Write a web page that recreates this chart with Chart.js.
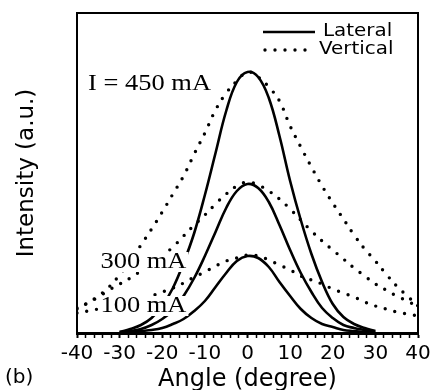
<!DOCTYPE html>
<html>
<head>
<meta charset="utf-8">
<title>Far-field intensity vs angle</title>
<script src="https://cdn.jsdelivr.net/npm/chart.js@4.4.0/dist/chart.umd.min.js"></script>
<style>
  html, body { margin: 0; padding: 0; background: #fff; }
  canvas { display: block; }
</style>
</head>
<body>
<canvas id="myChart" width="435" height="390"></canvas>
<script>
// angles in degrees
const lateralAngles = [-30, -27.5, -25, -22.5, -20, -17.5, -15, -12.5, -10, -7.5, -5, -2.5, 0,
                       2.5, 5, 7.5, 10, 12.5, 15, 17.5, 20, 22.5, 25, 27.5, 30];
const verticalAngles = [-40, -37.5, -35, -32.5, -30, -27.5, -25, -22.5, -20, -17.5, -15, -12.5, -10, -7.5, -5, -2.5, 0,
                        2.5, 5, 7.5, 10, 12.5, 15, 17.5, 20, 22.5, 25, 27.5, 30, 32.5, 35, 37.5, 40];

// intensity (a.u.), lateral far field
const lateral450 = [1, 4, 8, 15, 27, 45, 70, 100, 138, 180, 222, 251, 261,
                    256, 235, 197, 152, 113, 79, 51, 29, 16, 9, 5, 2];
const lateral300 = [1, 2, 4, 8, 14, 23, 37, 55, 77, 101, 125, 142, 149,
                    145, 131, 108, 83, 60, 41, 25, 15, 8, 5, 3, 1];
const lateral100 = [0, 1, 2, 3, 5, 9, 14, 22, 32, 46, 60, 72, 77,
                    75, 66, 51, 37, 24, 15, 9, 6, 3, 2, 1, 0];

// intensity (a.u.), vertical far field
const vertical450 = [24, 30, 37, 46, 58, 72, 88, 104, 121, 139, 157, 179, 200, 223, 240, 252, 261,
                     256, 246, 232, 207, 186, 166, 147, 130, 114, 98, 84, 72, 59, 47, 37, 27];
const vertical300 = [25, 30, 36, 43, 49, 55, 62, 69, 77, 86, 97, 108, 118, 129, 139, 147, 151,
                     148, 142, 134, 124, 113, 102, 92, 83, 74, 65, 57, 49, 43, 37, 32, 26];
const vertical100 = [20, 22, 24, 26, 28, 31, 34, 37, 41, 45, 50, 56, 61, 67, 72, 75, 78,
                     77, 73, 68, 63, 57, 53, 49, 44, 40, 36, 31, 27, 24, 21, 19, 17];

const angleTicks = [-40, -30, -20, -10, 0, 10, 20, 30, 40];
const seriesNames = ['Lateral', 'Vertical'];
const currentLabels = ['I = 450 mA', '300 mA', '100 mA'];

function points(xs, ys) {
    return xs.map((x, i) => ({ x: x, y: ys[i] }));
}

function solid(data) {
    return {
        label: seriesNames[0],
        data: data,
        borderColor: '#000',
        borderWidth: 2.6,
        pointRadius: 0,
        fill: false,
        tension: 0.4
    };
}

function dotted(data) {
    return {
        label: seriesNames[1],
        data: data,
        borderColor: '#000',
        borderWidth: 3.4,
        borderDash: [0, 10],
        borderCapStyle: 'round',
        pointRadius: 0,
        fill: false,
        tension: 0.4
    };
}

// text squeezed a little wider, like the printed figure
function wideText(ctx, text, x, y, sx) {
    ctx.save();
    ctx.translate(x, y);
    ctx.scale(sx, 1);
    ctx.fillText(text, 0, 0);
    ctx.restore();
}

// current labels sit on white boxes over the curves
const annotations = [
    { text: currentLabels[0], angle: -37.4, level: 249 },
    { text: currentLabels[1], angle: -34.5, level: 71 },
    { text: currentLabels[2], angle: -34.5, level: 27 }
];

const decorations = {
    id: 'decorations',
    afterDatasetsDraw(chart) {
        const ctx = chart.ctx;
        const a = chart.chartArea;
        const x = chart.scales.x;
        const y = chart.scales.y;
        ctx.save();

        // top and right of the frame
        ctx.strokeStyle = '#000';
        ctx.lineWidth = 2;
        ctx.beginPath();
        ctx.moveTo(a.left, a.top);
        ctx.lineTo(a.right, a.top);
        ctx.lineTo(a.right, a.bottom);
        ctx.stroke();

        ctx.font = '23px "Liberation Serif", "Times New Roman", serif';
        ctx.textBaseline = 'middle';
        ctx.textAlign = 'left';
        annotations.forEach(t => {
            const px = x.getPixelForValue(t.angle);
            const py = y.getPixelForValue(t.level);
            const w = ctx.measureText(t.text).width * 1.15;
            ctx.fillStyle = '#fff';
            ctx.fillRect(px - 2, py - 10, w + 4, 20);
            ctx.fillStyle = '#000';
            wideText(ctx, t.text, px, py, 1.15);
        });

        // legend
        const lx0 = a.right - 155, lx1 = a.right - 103;
        const ly = [a.top + 19, a.top + 37];
        ctx.lineWidth = 2.6;
        ctx.setLineDash([]);
        ctx.beginPath();
        ctx.moveTo(lx0, ly[0]);
        ctx.lineTo(lx1, ly[0]);
        ctx.stroke();
        ctx.lineWidth = 3.4;
        ctx.lineCap = 'round';
        ctx.setLineDash([0, 10]);
        ctx.beginPath();
        ctx.moveTo(lx0 + 2, ly[1]);
        ctx.lineTo(lx1, ly[1]);
        ctx.stroke();
        ctx.setLineDash([]);
        ctx.font = '17px "DejaVu Sans", sans-serif';
        ctx.fillStyle = '#000';
        wideText(ctx, seriesNames[0], lx1 + 8, ly[0], 1.17);
        wideText(ctx, seriesNames[1], lx1 + 4, ly[1], 1.17);

        // panel letter
        ctx.font = '20px "DejaVu Sans", sans-serif';
        ctx.fillText('(b)', 5, 378);

        ctx.restore();
    }
};

var myChart = document.getElementById('myChart').getContext('2d');

var profileChart = new Chart(myChart, {
    type: 'line',
    data: {
        datasets: [
            solid(points(lateralAngles, lateral450)),
            solid(points(lateralAngles, lateral300)),
            solid(points(lateralAngles, lateral100)),
            dotted(points(verticalAngles, vertical450)),
            dotted(points(verticalAngles, vertical300)),
            dotted(points(verticalAngles, vertical100))
        ]
    },
    options: {
        responsive: false,
        animation: false,
        layout: { padding: { top: 13, right: 17, left: 0, bottom: 0 } },
        plugins: {
            legend: { display: false },
            tooltip: { enabled: false }
        },
        scales: {
            x: {
                type: 'linear',
                min: -40,
                max: 40,
                afterFit: s => { s.height = 57; },
                grid: {
                    drawOnChartArea: false,
                    tickLength: 5,
                    tickColor: '#000',
                    tickWidth: c => (angleTicks.includes(c.tick.value) ? 2 : 1.5)
                },
                border: { color: '#000', width: 3 },
                ticks: {
                    stepSize: 2,
                    autoSkip: false,
                    maxRotation: 0,
                    padding: 4,
                    color: '#000',
                    font: { family: '"DejaVu Sans", sans-serif', size: 20 },
                    callback: v => (angleTicks.includes(v) ? String(v) : '')
                },
                title: {
                    display: true,
                    text: 'Angle (degree)',
                    color: '#000',
                    font: { family: '"DejaVu Sans", sans-serif', size: 24 },
                    padding: { top: 0, bottom: -4 }
                }
            },
            y: {
                min: 0,
                max: 320,
                afterFit: s => { s.width = 77; },
                grid: { display: false },
                border: { color: '#000', width: 2 },
                ticks: { display: false },
                title: {
                    display: true,
                    text: 'Intensity (a.u.)',
                    color: '#000',
                    font: { family: '"DejaVu Sans", sans-serif', size: 23 },
                    padding: { top: 13, bottom: 0 }
                }
            }
        }
    },
    plugins: [decorations]
});
</script>
</body>
</html>
